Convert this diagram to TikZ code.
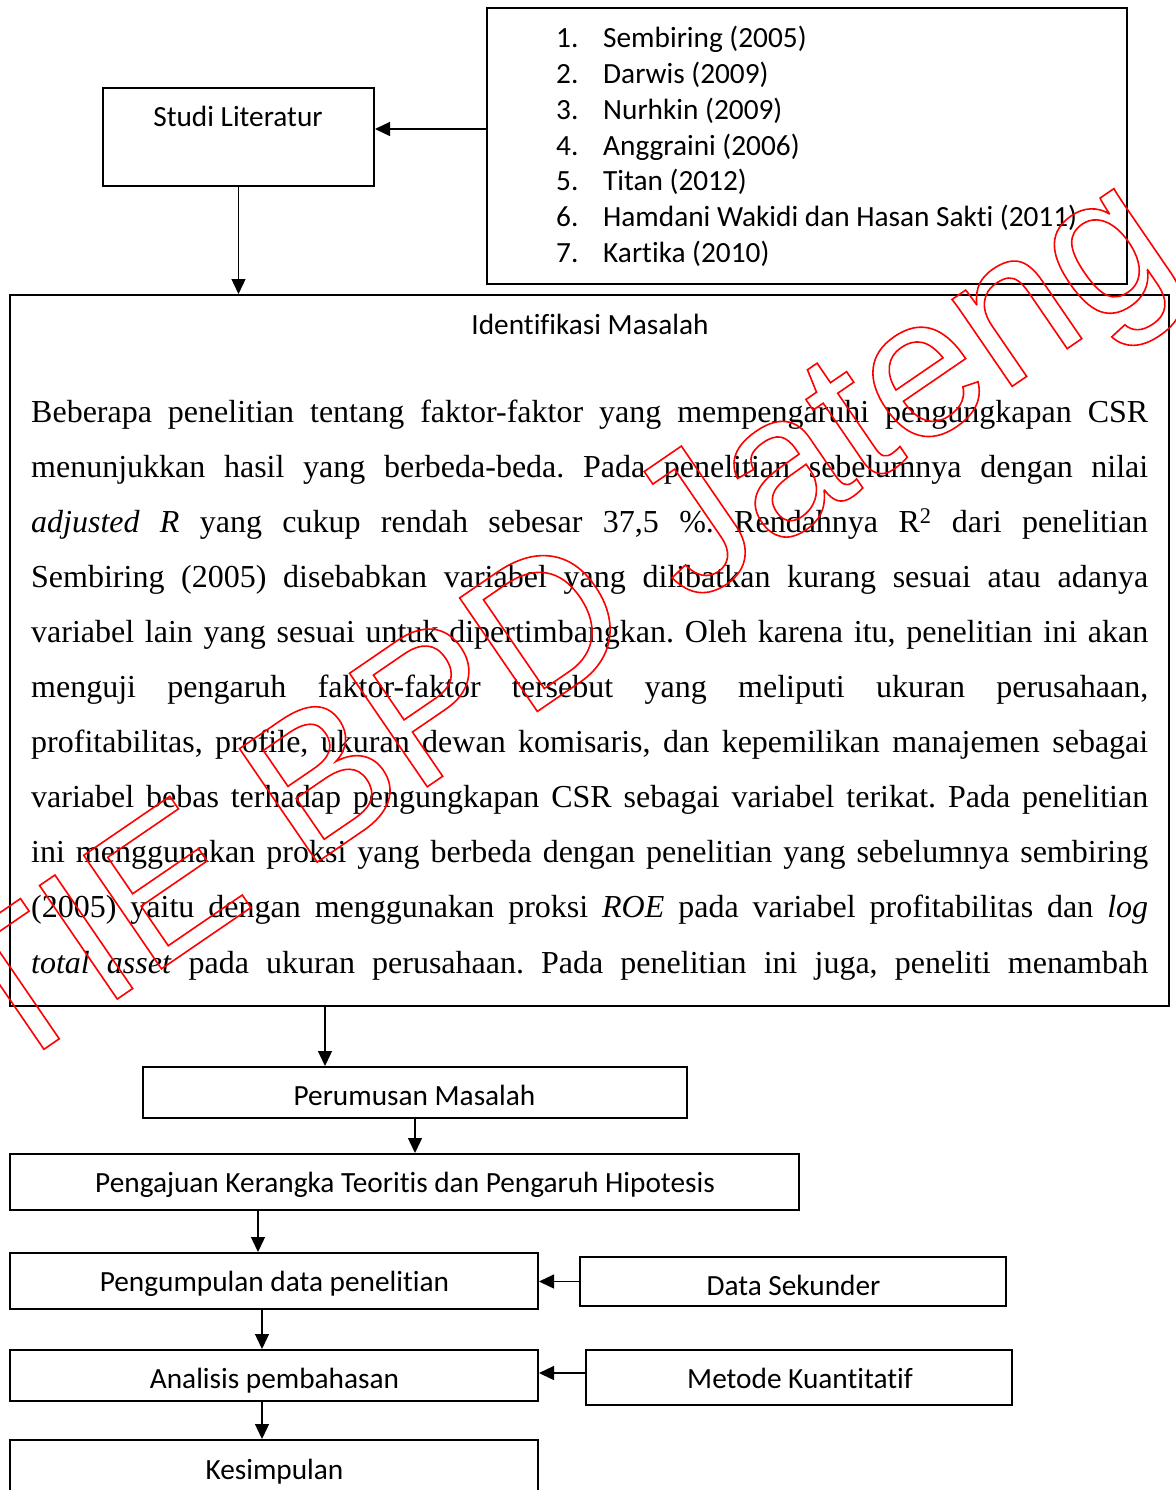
\documentclass[tikz,border=0pt]{standalone}
\usepackage{fontspec}
\setmainfont{Liberation Serif}
\newfontfamily\calfont[Ligatures=NoCommon]{Carlito}
\newfontfamily\wmfont{Liberation Sans}
\usetikzlibrary{arrows.meta,calc}
\newcommand\bx[5]{\node[box,minimum width={#4pt-#2pt},minimum height={#5pt-#3pt}] (#1) at ({(#2+#4)/2},{(#3+#5)/2}) {};}
\newcommand\pline[3]{\node[para] (#1) at (31,#2) {\makebox[1117pt][s]{#3}};}
\frenchspacing
\begin{document}
\begin{tikzpicture}[x=1pt,y=-1pt,
  box/.style={draw,line width=2pt,inner sep=0pt,rectangle},
  lbl/.style={anchor=base,inner sep=0pt,font=\calfont\fontsize{29.3}{35}\selectfont},
  para/.style={anchor=base west,inner sep=0pt,font=\frenchspacing\fontsize{32}{55}\selectfont},
  arr/.style={line width=1.3pt,-{Triangle[length=15pt,width=14pt]}}]
\useasboundingbox (0,0) rectangle (1175,1490);
\fill[white] (0,0) rectangle (1175,1490);
% boxes
\bx{studi}{103}{88}{374}{186}
\bx{refs}{487}{8}{1127}{284}
\bx{ident}{10}{295}{1169}{1006}
\bx{perum}{143}{1067}{687}{1118}
\bx{ajuan}{10}{1154}{799}{1210}
\bx{kumpul}{10}{1253}{538}{1309}
\bx{sekunder}{580}{1257}{1006}{1306}
\bx{analisis}{10}{1350}{538}{1401}
\bx{metode}{586}{1350}{1012}{1405}
\bx{simpul}{10}{1440}{538}{1510}
% labels
\node[lbl] (studiT) at (238,127) {Studi Literatur};
\foreach \t [count=\i] in {Sembiring (2005),Darwis (2009),Nurhkin (2009),Anggraini (2006),Titan (2012),Hamdani Wakidi dan Hasan Sakti (2011),Kartika (2010)}{
  \node[lbl,anchor=base west] (refn\i) at (556,{48+35.67*(\i-1)}) {\i.};
  \node[lbl,anchor=base west] (reft\i) at (603,{48+35.67*(\i-1)}) {\t};
}
\node[lbl] (identT) at (590,334) {Identifikasi Masalah};
\pline{p1}{422}{Beberapa penelitian tentang faktor-faktor yang mempengaruhi pengungkapan CSR}
\pline{p2}{477.1}{menunjukkan hasil yang berbeda-beda. Pada penelitian sebelumnya dengan nilai}
\pline{p3}{532.2}{\textit{adjusted R} yang cukup rendah sebesar 37,5 \%. Rendahnya R\textsuperscript{2} dari penelitian}
\pline{p4}{587.3}{Sembiring (2005) disebabkan variabel yang dilibatkan kurang sesuai atau adanya}
\pline{p5}{642.4}{variabel lain yang sesuai untuk dipertimbangkan. Oleh karena itu, penelitian ini akan}
\pline{p6}{697.5}{menguji pengaruh faktor-faktor tersebut yang meliputi ukuran perusahaan,}
\pline{p7}{752.6}{profitabilitas, profile, ukuran dewan komisaris, dan kepemilikan manajemen sebagai}
\pline{p8}{807.7}{variabel bebas terhadap pengungkapan CSR sebagai variabel terikat. Pada penelitian}
\pline{p9}{862.8}{ini menggunakan proksi yang berbeda dengan penelitian yang sebelumnya sembiring}
\pline{p10}{917.9}{(2005) yaitu dengan menggunakan proksi \textit{ROE} pada variabel profitabilitas dan \textit{log}}
\pline{p11}{973}{\textit{total asset} pada ukuran perusahaan. Pada penelitian ini juga, peneliti menambah}
\node[lbl] (perumT) at (414.5,1105) {Perumusan Masalah};
\node[lbl] (ajuanT) at (405,1192) {Pengajuan Kerangka Teoritis dan Pengaruh Hipotesis};
\node[lbl] (kumpulT) at (274.5,1291) {Pengumpulan data penelitian};
\node[lbl] (sekunderT) at (793.5,1295) {Data Sekunder};
\node[lbl] (analisisT) at (274.5,1388) {Analisis pembahasan};
\node[lbl] (metodeT) at (800,1388) {Metode Kuantitatif};
\node[lbl] (simpulT) at (274.5,1479) {Kesimpulan};
% connectors
\coordinate (a1) at (0,129);
\coordinate (a2) at (325,0);
\coordinate (a3) at (258,0);
\coordinate (a4) at (262,0);
\coordinate (a5) at (0,1373);
\draw[arr] (refs.west |- a1) -- (studi.east |- a1);
\draw[arr] (studi.south) -- (ident.north -| studi.south);
\draw[arr] (ident.south -| a2) -- (perum.north -| a2);
\draw[arr] (perum.south) -- (ajuan.north -| perum.south);
\draw[arr] (ajuan.south -| a3) -- (kumpul.north -| a3);
\draw[arr] (sekunder.west) -- (kumpul.east |- sekunder.west);
\draw[arr] (kumpul.south -| a4) -- (analisis.north -| a4);
\draw[arr] (metode.west |- a5) -- (analisis.east |- a5);
\draw[arr] (analisis.south -| a4) -- (simpul.north -| a4);
% watermark
\node[anchor=base west,inner sep=0pt,rotate=34.4,text=red,font=\wmfont\fontsize{200}{240}\selectfont] (wm) at (-109,1154) {\special{pdf:literal direct 1 Tr 1.6 w}STIE BPD Jateng\special{pdf:literal direct 0 Tr}};
\end{tikzpicture}
\end{document}
